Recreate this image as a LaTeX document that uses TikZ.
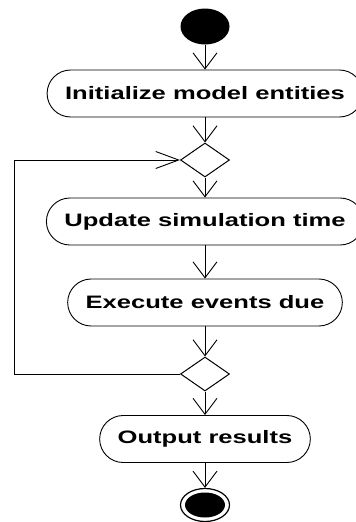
\documentclass[tikz,border=0pt]{standalone}
\usepackage{fontspec}
\usetikzlibrary{shapes.geometric, arrows.meta}
\newfontfamily\labelfont{Liberation Sans}[FakeStretch=1.42]

\begin{document}
\begin{tikzpicture}[x=1pt, y=-1pt,
        activity/.style={draw, rectangle, rounded corners=23.5pt, line width=0.9pt,
            minimum height=47pt, inner xsep=18pt,
            font=\labelfont\bfseries\fontsize{18}{20}\selectfont},
        decision/.style={draw, diamond, line width=1pt, inner sep=0pt,
            minimum width=49pt, minimum height=34pt, shape aspect=1.44},
        flow/.style={line width=0.9pt, -{Straight Barb[length=16pt, width=24pt]}},
        back/.style={line width=0.9pt, -{Straight Barb[length=23pt, width=17pt]}}]
    \useasboundingbox (0,0) rectangle (356,522);

    \node[ellipse, fill=black, inner sep=0pt, minimum width=49pt, minimum height=36pt] (start) at (205,26.5) {};
    \node[activity] (init) at (205,93.5) {Initialize model entities};
    \node[decision] (dec1) at (205,160) {};
    \node[activity] (update) at (205,221.5) {Update simulation time};
    \node[activity] (exec) at (205,302.5) {Execute events due};
    \node[decision] (dec2) at (205,374) {};
    \node[activity] (output) at (205,439) {Output results};
    \node[ellipse, draw, line width=1.2pt, inner sep=0pt, minimum width=49pt, minimum height=33pt] (end) at (205,505) {};
    \node[ellipse, fill=black, inner sep=0pt, minimum width=40pt, minimum height=25pt] at (end) {};
    \coordinate (loop) at (14,374);

    \foreach \a/\b in {start/init, init/dec1, dec1/update, update/exec, exec/dec2, dec2/output, output/end} {
        \draw[flow] (\a) -- (\b);
    }
    \draw[back] (dec2.west) -- (loop) |- (dec1.west);
\end{tikzpicture}
\end{document}
